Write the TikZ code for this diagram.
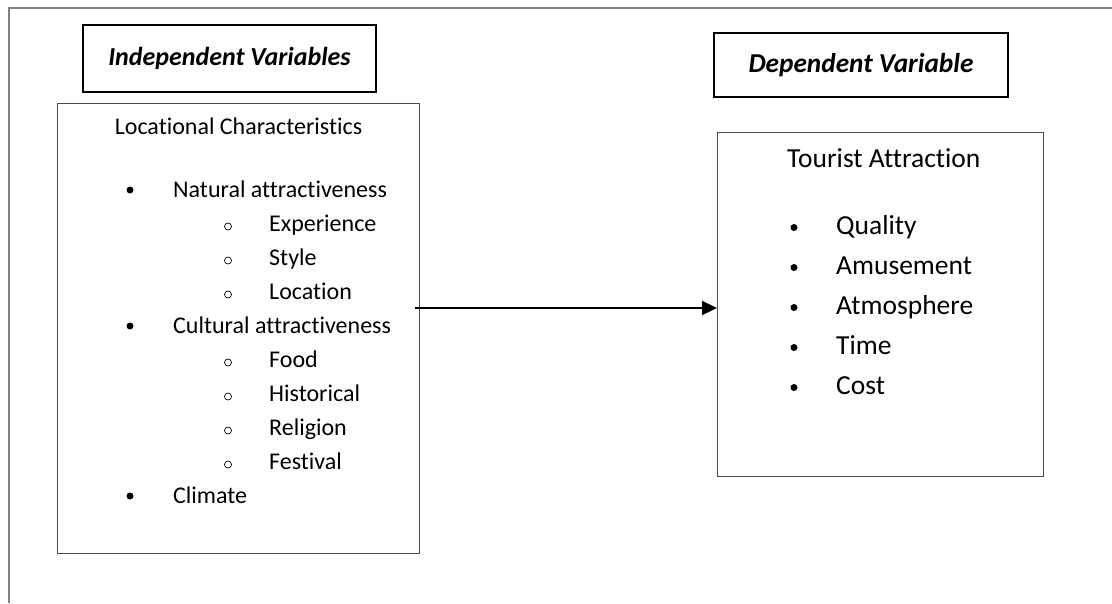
\documentclass[tikz,border=0pt]{standalone}
\usepackage{fontspec}
\setmainfont[Ligatures=NoCommon]{Carlito}
\usetikzlibrary{arrows.meta}

\tikzset{
    dot/.style={circle, fill=black, inner sep=0pt, minimum size=7pt},
    ring/.style={circle, draw=black, line width=0.7pt, inner sep=0pt, minimum size=7pt}
}

\begin{document}
\begin{tikzpicture}[x=1pt, y=-1pt]
    \useasboundingbox (0,0) rectangle (1112,603);

    % page frame
    \coordinate (P_1) at (9,603);
    \coordinate (P_2) at (9,8);
    \coordinate (P_3) at (1112,8);
    \draw[line width=1.6pt, black!50] (P_1) -- (P_2) -- (P_3);

    % headings
    \begin{scope}[every node/.style={draw=black, line width=2pt}]
        \node[minimum width=293pt, minimum height=67pt, font=\fontsize{26}{30}\selectfont\bfseries\itshape] (H_1) at (229.5,58.5) {Independent Variables};
        \node[minimum width=294pt, minimum height=64pt, font=\fontsize{27.3}{32}\selectfont\bfseries\itshape] (H_2) at (861,65) {Dependent Variable};
    \end{scope}

    % boxes
    \begin{scope}[every node/.style={draw=black!70, line width=1.4pt, anchor=north west}]
        \node[minimum width=362pt, minimum height=450pt] (L) at (57,103) {};
        \node[minimum width=326pt, minimum height=344pt] (R) at (717,132) {};
    \end{scope}

    \begin{scope}[every node/.style={anchor=base west, inner sep=0pt, font=\fontsize{24}{28}\selectfont}]
        \node[anchor=base] (L_0) at (238.5,134) {Locational Characteristics};
        \node (L_1) at (173,197) {Natural attractiveness};
        \node (L_2) at (269,231) {Experience};
        \node (L_3) at (269,265) {Style};
        \node (L_4) at (269,299) {Location};
        \node (L_5) at (173,333) {Cultural attractiveness};
        \node (L_6) at (269,367) {Food};
        \node (L_7) at (269,401) {Historical};
        \node (L_8) at (269,435) {Religion};
        \node (L_9) at (269,469) {Festival};
        \node (L_10) at (173,503) {Climate};
    \end{scope}

    \begin{scope}[every node/.style={anchor=base west, inner sep=0pt, font=\fontsize{27.5}{32}\selectfont}]
        \node (R_0) at (787,167) {Tourist Attraction};
        \node (R_1) at (836,234) {Quality};
        \node (R_2) at (836,274) {Amusement};
        \node (R_3) at (836,314) {Atmosphere};
        \node (R_4) at (836,354) {Time};
        \node (R_5) at (836,394) {Cost};
    \end{scope}

    % bullets
    \node[dot] (D_1) at (130,190) {};
    \node[dot] (D_5) at (130,326) {};
    \node[dot] (D_10) at (130,496) {};
    \node[ring] (O_2) at (228,226.5) {};
    \node[ring] (O_3) at (228,260.5) {};
    \node[ring] (O_4) at (228,294.5) {};
    \node[ring] (O_6) at (228,362.5) {};
    \node[ring] (O_7) at (228,396.5) {};
    \node[ring] (O_8) at (228,430.5) {};
    \node[ring] (O_9) at (228,464.5) {};
    \node[dot] (E_1) at (794,227.5) {};
    \node[dot] (E_2) at (794,267.5) {};
    \node[dot] (E_3) at (794,307.5) {};
    \node[dot] (E_4) at (794,347.5) {};
    \node[dot] (E_5) at (794,387.5) {};

    % link
    \coordinate (A_0) at (415,308);
    \draw[line width=2.2pt, -{Triangle[length=15pt, width=14pt]}] (A_0) -- (A_0 -| R.west);
\end{tikzpicture}
\end{document}
